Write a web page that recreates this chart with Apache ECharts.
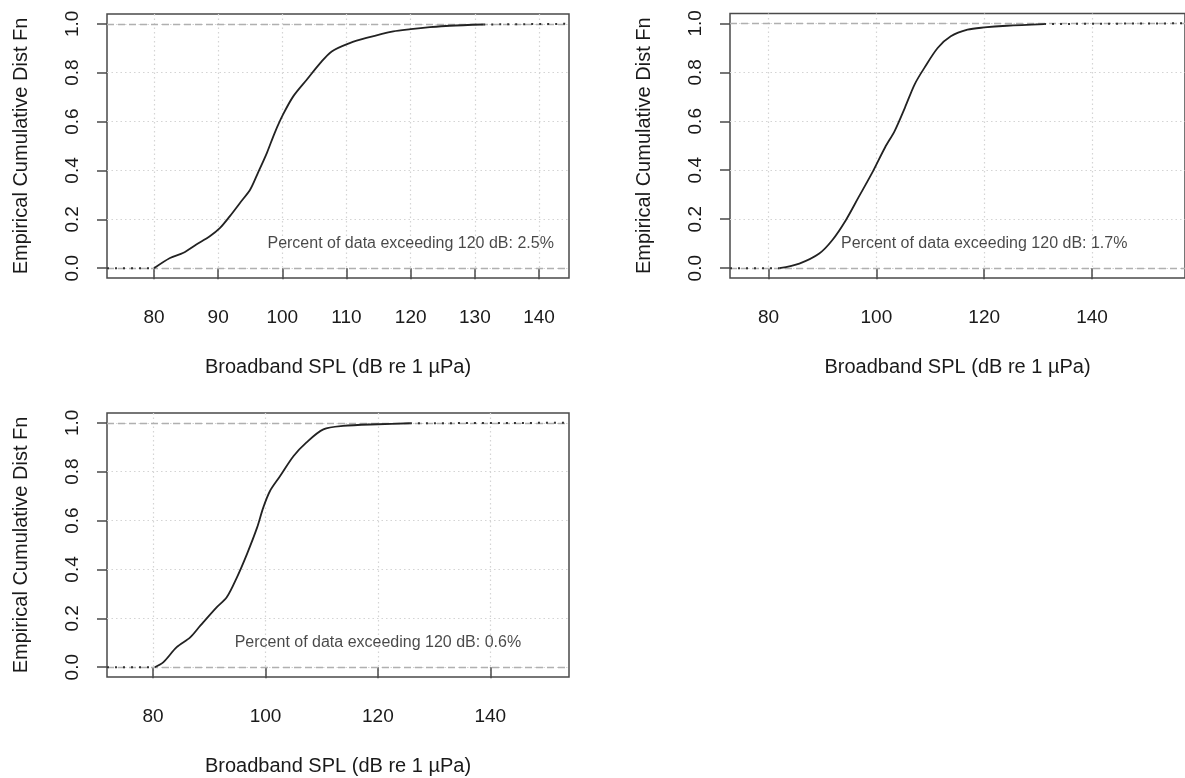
<!DOCTYPE html>
<html>
<head>
<meta charset="utf-8">
<script src="https://cdn.jsdelivr.net/npm/echarts@6/dist/echarts.min.js"></script>
<style>
html,body{margin:0;padding:0;background:#fff;}
#chart{width:1185px;height:778px;}
</style>
</head>
<body>
<div id="chart"></div>
<script>
// ---------------- DATA ----------------
const xTitle = "Broadband SPL (dB re 1 µPa)";
const yTitle = "Empirical Cumulative Dist Fn";

const xTicks1 = [80, 90, 100, 110, 120, 130, 140];
const xTicks2 = [80, 100, 120, 140];
const xTicks3 = [80, 100, 120, 140];
const yTicks = [0, 0.2, 0.4, 0.6, 0.8, 1.0];

// ECDF curves: [SPL dB, cumulative fraction]
const ecdf1 = [
  [80.0,0.000],[82.5,0.042],[84.6,0.063],[86.6,0.097],[88.7,0.131],[90.3,0.165],
  [91.8,0.212],[93.4,0.267],[95.0,0.322],[96.2,0.390],[97.6,0.472],[98.8,0.553],
  [100.1,0.628],[101.7,0.703],[103.8,0.771],[105.9,0.839],[107.7,0.887],[110.5,0.921],
  [113.1,0.942],[117.3,0.969],[120.0,0.978],[123.0,0.986],[126.1,0.992],[131.3,0.997]
];
const ecdf2 = [
  [82.0,0.000],[85.7,0.019],[89.4,0.060],[91.8,0.114],[94.3,0.195],[96.7,0.290],
  [99.1,0.385],[101.6,0.493],[103.4,0.561],[105.3,0.656],[107.1,0.751],[108.9,0.818],
  [111.4,0.900],[113.8,0.947],[116.9,0.974],[120.0,0.983],[124.2,0.990],[131.1,0.997]
];
const ecdf3 = [
  [80.3,0.000],[81.8,0.020],[84.2,0.082],[86.6,0.122],[88.4,0.170],[91.3,0.245],
  [93.1,0.286],[94.9,0.367],[96.7,0.463],[98.5,0.571],[99.6,0.653],[100.8,0.721],
  [102.6,0.782],[105.0,0.864],[107.3,0.920],[110.3,0.973],[113.8,0.987],[120.0,0.994],
  [125.7,0.998]
];

const notes = [
  "Percent of data exceeding 120 dB: 2.5%",
  "Percent of data exceeding 120 dB: 1.7%",
  "Percent of data exceeding 120 dB: 0.6%"
];
const noteAt = [120, 0.1];

// ---------------- LAYOUT / STYLE ----------------
const FONT = "'Liberation Sans', Arial, Helvetica, sans-serif";
const TXT = '#1a1a1a';
const BOX = '#4a4a4a';
const panels = [
  {grid:{left:107, top:14, width:462, height:264}, xr:[72.68,144.67], ticks:xTicks1, data:ecdf1, note:notes[0]},
  {grid:{left:730, top:13.5, width:460, height:264.5}, xr:[72.84,157.25], ticks:xTicks2, data:ecdf2, note:notes[1]},
  {grid:{left:107, top:413, width:462, height:264}, xr:[71.8,154.0], ticks:xTicks3, data:ecdf3, note:notes[2]}
];

const grids = [], xAxes = [], yAxes = [], series = [];
panels.forEach((p, i) => {
  grids.push(Object.assign({show:true, borderColor:BOX, borderWidth:1.5, backgroundColor:'transparent'}, p.grid));
  xAxes.push({
    gridIndex:i, type:'value', min:p.xr[0], max:p.xr[1],
    axisLine:{show:false},
    axisTick:{show:true, length:11, customValues:p.ticks, lineStyle:{color:BOX, width:1.5}},
    axisLabel:{customValues:p.ticks, margin:30, fontSize:19, color:TXT, fontFamily:FONT},
    splitLine:{show:true, lineStyle:{color:'#d4d4d4', width:1.2, type:[1.5,3]}},
    name:xTitle, nameLocation:'middle', nameGap:79,
    nameTextStyle:{fontSize:20, color:TXT, fontFamily:FONT}
  });
  yAxes.push({
    gridIndex:i, type:'value', min:-0.04, max:1.04,
    axisLine:{show:false},
    axisTick:{show:true, length:10, customValues:yTicks, lineStyle:{color:BOX, width:1.5}},
    axisLabel:{customValues:yTicks, rotate:90, margin:25, fontSize:19, color:TXT, fontFamily:FONT,
      formatter:v => Number(v).toFixed(1)},
    splitLine:{show:true, lineStyle:{color:'#d4d4d4', width:1.2, type:[1.5,3]}},
    name:yTitle, nameLocation:'middle', nameGap:76,
    nameTextStyle:{fontSize:20, color:TXT, fontFamily:FONT}
  });
  const d = p.data;
  // main ECDF curve + reference lines at 0 and 1
  series.push({
    type:'line', xAxisIndex:i, yAxisIndex:i, data:d, showSymbol:false,
    smooth:0.3, z:5,
    lineStyle:{color:'#222', width:1.8},
    markLine:{silent:true, symbol:'none', label:{show:false}, z:3,
      lineStyle:{color:'#b0b0b0', width:1.3, type:[7,4]},
      data:[{yAxis:0},{yAxis:1}]}
  });
  // left tail (ecdf = 0 below first observation)
  series.push({
    type:'line', xAxisIndex:i, yAxisIndex:i, showSymbol:false, z:6,
    data:[[p.xr[0], 0], d[0]],
    lineStyle:{color:'#333', width:2, type:[2,6]}
  });
  // right tail (approaching 1)
  series.push({
    type:'line', xAxisIndex:i, yAxisIndex:i, showSymbol:false, z:6,
    data:[d[d.length-1], [p.xr[1], 1]],
    lineStyle:{color:'#333', width:2, type:[2,6]}
  });
  // annotation
  series.push({
    type:'scatter', xAxisIndex:i, yAxisIndex:i, symbolSize:0, silent:true, z:7,
    data:[noteAt],
    label:{show:true, position:'inside', formatter:p.note, fontSize:16, color:TXT, fontFamily:FONT}
  });
});

const chart = echarts.init(document.getElementById('chart'), null, {renderer:'canvas'});
chart.setOption({
  animation:false,
  backgroundColor:'#fff',
  grid:grids, xAxis:xAxes, yAxis:yAxes, series:series
});
</script>
</body>
</html>
